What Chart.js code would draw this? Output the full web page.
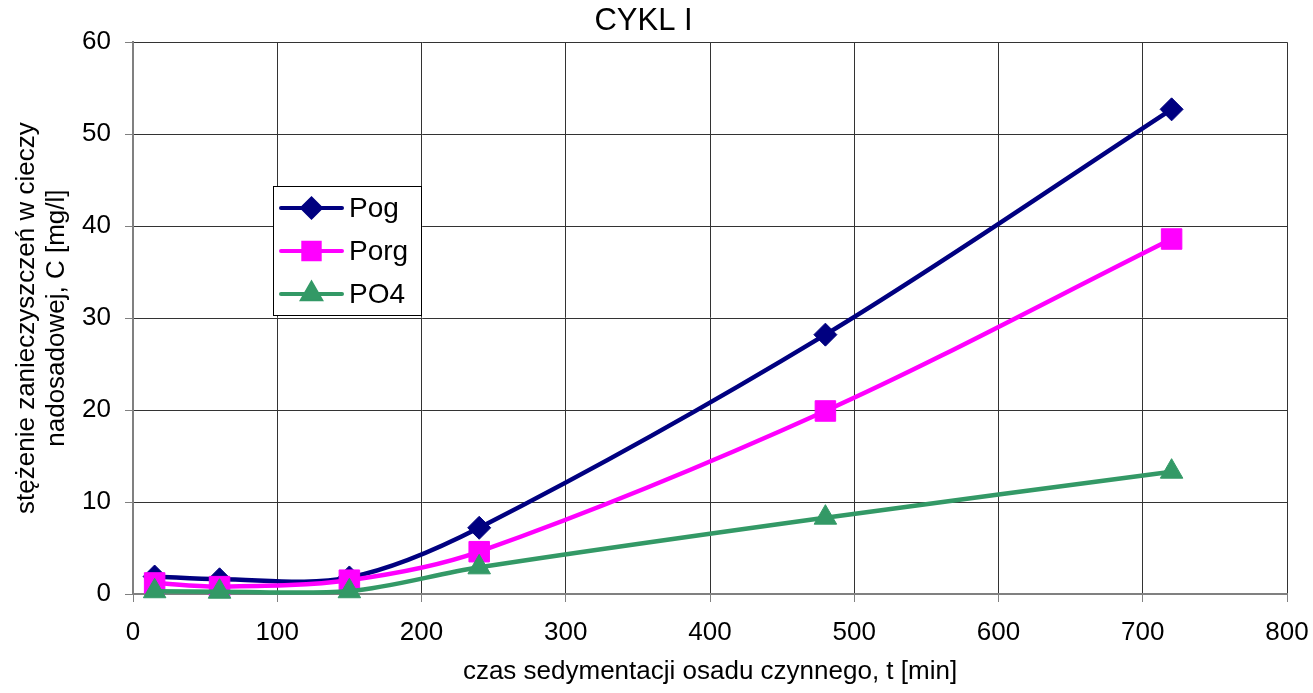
<!DOCTYPE html>
<html>
<head>
<meta charset="utf-8">
<script src="https://cdn.jsdelivr.net/npm/chart.js@4"></script>
<style>
html,body{margin:0;padding:0;background:#fff;}
#wrap{width:1313px;height:693px;position:relative;}
</style>
</head>
<body>
<div id="wrap"><canvas id="c" width="1313" height="693"></canvas></div>
<script>
const chartTitle = "CYKL I";
const xTitle = "czas sedymentacji osadu czynnego, t [min]";
const yTitle = ["stężenie zanieczyszczeń w cieczy", "nadosadowej, C [mg/l]"];
const times = [15, 60, 150, 240, 480, 720];
const seriesNames = ["Pog", "Porg", "PO4"];
const pog = [1.9, 1.6, 1.8, 7.2, 28.2, 52.7];
const porg = [1.2, 0.8, 1.5, 4.6, 19.9, 38.6];
const po4 = [0.3, 0.25, 0.3, 2.9, 8.3, 13.3];
const xTicks = [0, 100, 200, 300, 400, 500, 600, 700, 800];
const yTicks = [0, 10, 20, 30, 40, 50, 60];

const FONT = "'Liberation Sans', Arial, sans-serif";

function pts(vals){ return times.map((t,i)=>({x:t, y:vals[i]})); }

const styles = [
  {color:'#000080', pointStyle:'rectRot', radius:11.5},
  {color:'#FF00FF', pointStyle:'rect', radius:14.5},
  {color:'#339966', pointStyle:'triangle', radius:13}
];
const values = [pog, porg, po4];

const datasets = seriesNames.map((name,i)=>({
  label: name,
  data: pts(values[i]),
  borderColor: styles[i].color,
  backgroundColor: styles[i].color,
  pointBackgroundColor: styles[i].color,
  pointBorderColor: styles[i].color,
  pointStyle: styles[i].pointStyle,
  pointRadius: styles[i].radius,
  pointBorderWidth: 1,
  borderWidth: 4.5,
  tension: 0.33,
  clip: false
})).reverse();

const boxLegend = {
  id: 'boxLegend',
  afterDraw(chart){
    const ctx = chart.ctx;
    const left = 273, top = 186, w = 148, h = 129;
    ctx.save();
    ctx.fillStyle = '#fff';
    ctx.fillRect(left, top, w, h);
    ctx.strokeStyle = '#000';
    ctx.lineWidth = 1;
    ctx.strokeRect(left+0.5, top+0.5, w, h);
    const rowH = 43;
    seriesNames.forEach((name,i)=>{
      const y = top + 22 + i*rowH;
      const st = styles[i];
      ctx.strokeStyle = st.color;
      ctx.lineWidth = 4;
      ctx.lineCap = 'round';
      ctx.beginPath();
      ctx.moveTo(281, y); ctx.lineTo(342, y);
      ctx.stroke();
      ctx.fillStyle = st.color;
      Chart.helpers.drawPoint(ctx, {pointStyle: st.pointStyle, radius: st.radius*0.8, borderWidth: 1, rotation:0}, 311.5, y);
      ctx.fill();
      ctx.fillStyle = '#000';
      ctx.font = "28px " + FONT;
      ctx.textBaseline = 'middle';
      ctx.textAlign = 'left';
      ctx.fillText(name, 349, y+1);
    });
    ctx.restore();
  }
};

new Chart(document.getElementById('c'), {
  type: 'line',
  data: { datasets },
  plugins: [boxLegend],
  options: {
    responsive: false,
    animation: false,
    layout: { padding: { left: 0, right: 26, top: 0, bottom: 0 } },
    plugins: {
      legend: { display: false },
      tooltip: { enabled: false },
      title: {
        display: true, text: chartTitle, color: '#000',
        font: { family: FONT, size: 31, weight: 'normal', lineHeight: 1.2 },
        padding: { top: 3, bottom: 2 }
      }
    },
    scales: {
      x: {
        type: 'linear', min: 0, max: 800,
        afterFit(s){ s.height = 99; s.paddingLeft = 0; s.paddingRight = 0; },
        afterBuildTicks(s){ s.ticks = xTicks.map(v=>({value:v})); },
        ticks: { color:'#000', font:{family:FONT, size:26}, padding: 15, maxRotation:0 },
        grid: { color:'#333', lineWidth:1, tickLength:8, tickColor:'#808080', drawTicks:true },
        border: { color:'#808080', width:2 },
        title: { display:true, text:xTitle, color:'#000', font:{family:FONT,size:26,lineHeight:1.15}, padding:{top:0,bottom:6} }
      },
      y: {
        type: 'linear', min: 0, max: 60,
        afterFit(s){ s.width = 133; s.paddingTop = 0; s.paddingBottom = 0; },
        afterBuildTicks(s){ s.ticks = yTicks.map(v=>({value:v})); },
        ticks: { color:'#000', font:{family:FONT, size:26}, padding: 14 },
        grid: { color:'#333', lineWidth:1, tickLength:8, tickColor:'#808080', drawTicks:true },
        border: { color:'#808080', width:2 },
        title: { display:true, text:yTitle, color:'#000', font:{family:FONT,size:26,lineHeight:1.15}, padding:{top:12,bottom:0} }
      }
    }
  }
});
</script>
</body>
</html>
